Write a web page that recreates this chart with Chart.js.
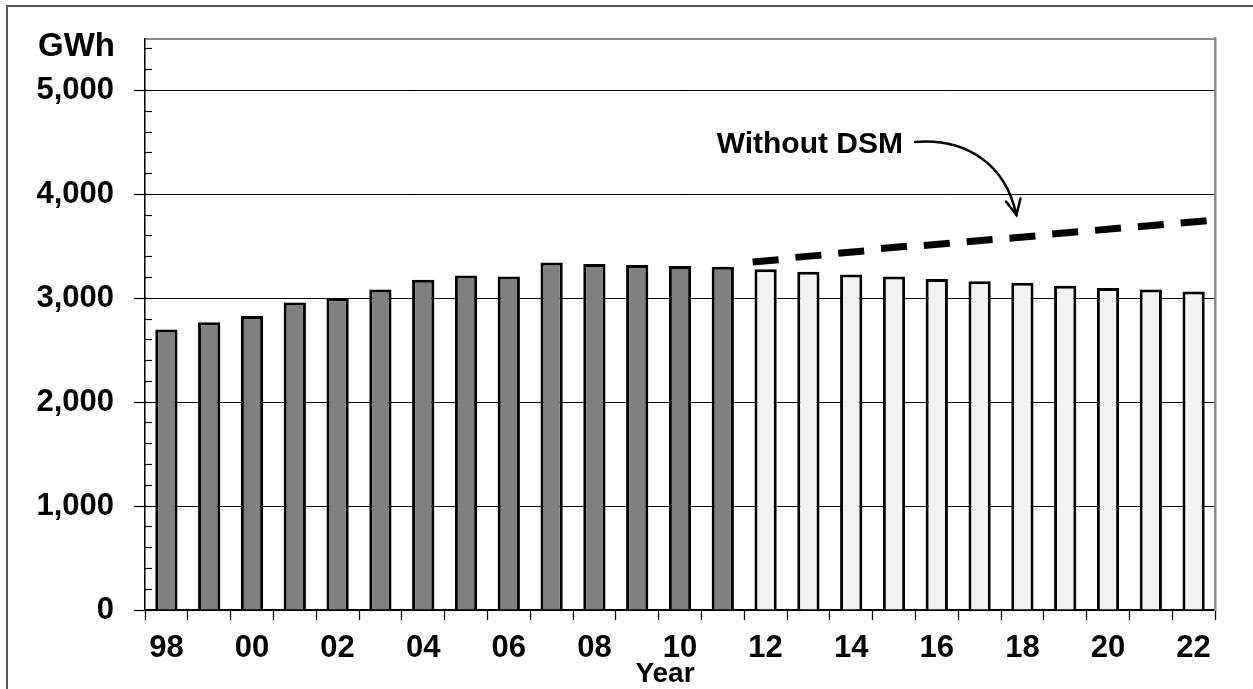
<!DOCTYPE html>
<html>
<head>
<meta charset="utf-8">
<script src="https://cdn.jsdelivr.net/npm/chart.js@4.4.1/dist/chart.umd.min.js"></script>
<style>
  html, body { margin: 0; padding: 0; background: #fff; }
  #wrap { position: relative; width: 1253px; height: 689px; }
</style>
</head>
<body>
<div id="wrap"><canvas id="chart" width="1253" height="689"></canvas></div>
<script>
// Annual energy, GWh: recorded years, forecast years, and forecast without DSM
const years = ['98','99','00','01','02','03','04','05','06','07','08','09','10','11',
               '12','13','14','15','16','17','18','19','20','21','22'];
const actualGWh = [2700, 2770, 2830, 2960, 3000, 3085, 3180, 3220, 3210, 3345, 3330, 3320, 3310, 3305];
const forecastGWh = [3280, 3255, 3230, 3210, 3185, 3165, 3150, 3120, 3100, 3085, 3065];
const withoutDsmGWh = [3360, 3405, 3445, 3490, 3520, 3555, 3590, 3630, 3665, 3700, 3735];
const yTickValues = [0, 1000, 2000, 3000, 4000, 5000];
const yMax = 5500;
const yMinorStep = 200;

const FONT = '"Liberation Sans", Arial, Helvetica, sans-serif';
const nActual = actualGWh.length;
const pad = n => Array(n).fill(null);

const actualData = actualGWh.concat(pad(years.length - nActual));
const forecastData = pad(nActual).concat(forecastGWh);
const withoutDsmData = pad(nActual).concat(withoutDsmGWh);

// Frame, unit label, axis title and the "Without DSM" call-out
const decorations = {
  id: 'decorations',
  beforeDraw(chart) {
    const ctx = chart.ctx;
    ctx.save();
    ctx.strokeStyle = '#555';
    ctx.lineWidth = 2;
    ctx.beginPath();
    ctx.moveTo(7, chart.height);
    ctx.lineTo(7, 6);
    ctx.lineTo(chart.width, 6);
    ctx.stroke();
    ctx.restore();
  },
  afterDatasetsDraw(chart) {
    const ctx = chart.ctx;
    const xs = chart.scales.x, ys = chart.scales.y;
    const area = chart.chartArea;
    ctx.save();
    ctx.fillStyle = '#000';

    // unit label above the value axis
    ctx.font = 'bold 33px ' + FONT;
    ctx.textAlign = 'right';
    ctx.textBaseline = 'alphabetic';
    ctx.fillText('GWh', 115, 56);

    // x axis title
    ctx.font = 'bold 28px ' + FONT;
    ctx.textAlign = 'center';
    ctx.fillText('Year', (area.left + area.right) / 2 - 15, 682);

    // call-out text
    const textRight = xs.getPixelForValue(17) + 9;
    const baseY = ys.getPixelForValue(4400);
    ctx.font = 'bold 30px ' + FONT;
    ctx.textAlign = 'right';
    ctx.fillText('Without DSM', textRight, baseY);

    // curved arrow pointing at the dashed line
    const sx = textRight + 12, sy = baseY - 11;
    const tx = xs.getPixelForValue(20) - 6;
    const ty = ys.getPixelForValue(withoutDsmGWh[6]) - 22;
    const c1x = sx + 50, c1y = sy - 4;
    const c2x = tx - 11, c2y = ty - 52;
    ctx.strokeStyle = '#000';
    ctx.lineWidth = 2.5;
    ctx.lineCap = 'round';
    ctx.beginPath();
    ctx.moveTo(sx, sy);
    ctx.bezierCurveTo(c1x, c1y, c2x, c2y, tx, ty);
    ctx.stroke();
    const ang = Math.atan2(ty - c2y, tx - c2x);
    const len = 17, spread = 0.45;
    ctx.beginPath();
    ctx.moveTo(tx - len * Math.cos(ang - spread), ty - len * Math.sin(ang - spread));
    ctx.lineTo(tx, ty);
    ctx.lineTo(tx - len * Math.cos(ang + spread), ty - len * Math.sin(ang + spread));
    ctx.stroke();
    ctx.restore();
  }
};

new Chart(document.getElementById('chart'), {
  data: {
    labels: years,
    datasets: [
      {
        type: 'bar',
        label: 'Actual',
        data: actualData,
        backgroundColor: '#808080',
        borderColor: '#000',
        borderWidth: 3,
        grouped: false,
        barPercentage: 0.52,
        categoryPercentage: 1.0,
        order: 2
      },
      {
        type: 'bar',
        label: 'Forecast',
        data: forecastData,
        backgroundColor: '#f2f2f2',
        borderColor: '#000',
        borderWidth: 3,
        grouped: false,
        barPercentage: 0.52,
        categoryPercentage: 1.0,
        order: 2
      },
      {
        type: 'line',
        label: 'Without DSM',
        data: withoutDsmData,
        showLine: false,
        pointStyle: 'line',
        pointRadius: 13,
        pointBorderWidth: 7,
        pointBorderColor: '#000',
        pointBackgroundColor: '#000',
        pointRotation: -5,
        order: 1
      }
    ]
  },
  options: {
    responsive: false,
    animation: false,
    events: [],
    layout: { padding: { top: 37, right: 38, bottom: 0, left: 0 } },
    plugins: {
      legend: { display: false },
      tooltip: { enabled: false }
    },
    scales: {
      x: {
        type: 'category',
        offset: true,
        grid: {
          offset: true,
          drawOnChartArea: false,
          tickLength: 10,
          tickColor: '#000',
          tickWidth: 1.3
        },
        border: { display: true, color: '#000', width: 1.5 },
        ticks: {
          autoSkip: false,
          maxRotation: 0,
          padding: 10,
          color: '#000',
          font: { family: FONT, size: 31, weight: 'bold' },
          callback: function (val, i) { return i % 2 === 0 ? this.getLabelForValue(val) : ''; }
        },
        afterFit: s => { s.height = 79; }
      },
      y: {
        type: 'linear',
        position: 'left',
        weight: 1,
        min: 0,
        max: yMax,
        afterBuildTicks: s => { s.ticks = yTickValues.concat([yMax]).map(v => ({ value: v })); },
        grid: {
          color: c => (c.tick && c.tick.value === yMax) ? '#8c8c8c' : '#000',
          lineWidth: c => (c.tick && c.tick.value === yMax) ? 2 : 1,
          tickColor: c => (c.tick && c.tick.value === yMax) ? 'rgba(0,0,0,0)' : '#000',
          tickLength: 11,
          tickWidth: 1.3
        },
        border: { display: true, color: '#000', width: 1.5 },
        ticks: {
          padding: 20,
          color: '#000',
          font: { family: FONT, size: 31, weight: 'bold' },
          callback: v => v === yMax ? '' : v.toLocaleString('en-US')
        },
        afterFit: s => { s.width = 145; }
      },
      yMinor: {
        type: 'linear',
        position: 'left',
        weight: 0,
        min: 0,
        max: yMax,
        afterBuildTicks: s => {
          const t = [];
          for (let v = 0; v < yMax; v += yMinorStep) t.push({ value: v });
          s.ticks = t;
        },
        grid: {
          drawOnChartArea: false,
          drawTicks: true,
          tickLength: -7,
          tickColor: '#000',
          tickWidth: 1.2
        },
        border: { display: false },
        ticks: { display: false },
        afterFit: s => { s.width = 0; }
      },
      yRight: {
        type: 'linear',
        position: 'right',
        min: 0,
        max: yMax,
        grid: { drawOnChartArea: false, drawTicks: false },
        border: { display: true, color: '#8c8c8c', width: 2.5 },
        ticks: { display: false },
        afterFit: s => { s.width = 0; }
      }
    }
  },
  plugins: [decorations]
});
</script>
</body>
</html>
